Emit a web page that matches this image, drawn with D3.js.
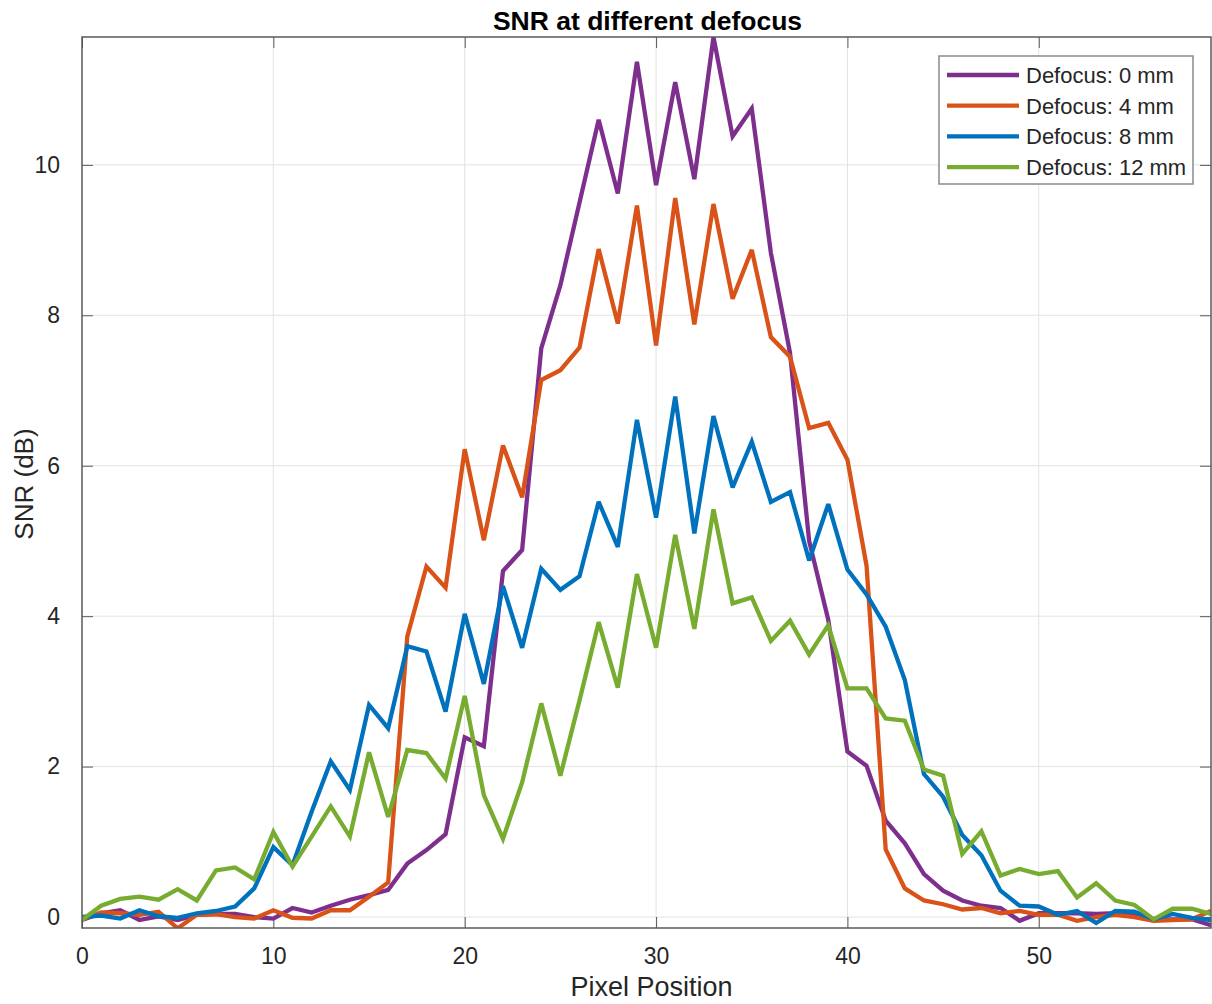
<!DOCTYPE html>
<html>
<head>
<meta charset="utf-8">
<script src="https://cdn.jsdelivr.net/npm/d3@7"></script>
<style>
  body { margin: 0; background: #fff; }
  text { font-family: "Liberation Sans", Arial, Helvetica, sans-serif; }
</style>
</head>
<body>
<div id="chart"></div>
<script>
// data, one value per pixel position 0..59
var pixelPositions = d3.range(0, 60);

var snrDefocus0 = [-0.04, 0.05, 0.09, -0.04, 0.01, -0.04, 0.03, 0.04, 0.04, 0.00,
  -0.02, 0.12, 0.06, 0.15, 0.23, 0.29, 0.36, 0.71, 0.89, 1.10,
  2.39, 2.27, 4.60, 4.88, 7.56, 8.40, 9.50, 10.60, 9.62, 11.37,
  9.73, 11.10, 9.81, 11.70, 10.38, 10.75, 8.83, 7.50, 5.00, 3.95,
  2.20, 2.01, 1.28, 0.98, 0.57, 0.35, 0.22, 0.15, 0.12, -0.05,
  0.05, 0.05, 0.05, 0.04, 0.05, 0.03, -0.03, -0.03, -0.03, -0.11];

var snrDefocus4 = [-0.03, 0.06, 0.05, 0.03, 0.07, -0.15, 0.03, 0.04, 0.00, -0.02,
  0.09, -0.01, -0.02, 0.09, 0.09, 0.27, 0.46, 3.73, 4.66, 4.38,
  6.22, 5.01, 6.27, 5.58, 7.14, 7.27, 7.57, 8.88, 7.89, 9.46,
  7.60, 9.56, 7.88, 9.48, 8.22, 8.87, 7.71, 7.45, 6.50, 6.57,
  6.08, 4.67, 0.90, 0.38, 0.22, 0.17, 0.10, 0.12, 0.05, 0.08,
  0.03, 0.03, -0.05, 0.00, 0.03, 0.00, -0.05, -0.04, -0.03, 0.08];

var snrDefocus8 = [0.00, 0.02, -0.02, 0.09, 0.01, -0.01, 0.05, 0.08, 0.14, 0.38,
  0.93, 0.69, 1.40, 2.07, 1.69, 2.82, 2.51, 3.60, 3.53, 2.73,
  4.03, 3.10, 4.40, 3.58, 4.63, 4.35, 4.53, 5.52, 4.92, 6.61,
  5.31, 6.92, 5.10, 6.66, 5.71, 6.32, 5.52, 5.65, 4.74, 5.49,
  4.62, 4.29, 3.86, 3.15, 1.90, 1.60, 1.09, 0.82, 0.35, 0.15,
  0.14, 0.03, 0.08, -0.08, 0.08, 0.07, -0.03, 0.04, -0.01, -0.04];

var snrDefocus12 = [-0.04, 0.15, 0.24, 0.27, 0.23, 0.37, 0.22, 0.62, 0.66, 0.50,
  1.13, 0.67, 1.07, 1.47, 1.07, 2.19, 1.33, 2.22, 2.18, 1.84,
  2.94, 1.62, 1.04, 1.79, 2.84, 1.88, 2.88, 3.92, 3.05, 4.56,
  3.58, 5.08, 3.83, 5.42, 4.17, 4.25, 3.67, 3.94, 3.49, 3.88,
  3.04, 3.04, 2.64, 2.61, 1.96, 1.88, 0.84, 1.14, 0.55, 0.64,
  0.57, 0.61, 0.26, 0.45, 0.22, 0.16, -0.03, 0.11, 0.11, 0.04];

var seriesNames = ['Defocus: 0 mm', 'Defocus: 4 mm', 'Defocus: 8 mm', 'Defocus: 12 mm'];
var seriesValues = [snrDefocus0, snrDefocus4, snrDefocus8, snrDefocus12];
var seriesColors = ['#7E2F8E', '#D95319', '#0072BD', '#77AC30'];

var xTicks = [0, 10, 20, 30, 40, 50];
var yTicks = [0, 2, 4, 6, 8, 10];

// some constants for the page
var width = 1212;
var height = 1004;
var plotLeft = 82;
var plotRight = 1211;
var plotTop = 37;
var plotBottom = 928;
var tickLength = 11;
var axisColor = '#5a5a5a';
var textColor = '#262626';

var svg = d3.select('div#chart')
    .append('svg')
    .attr('width', width)
    .attr('height', height);

var x = d3.scaleLinear().domain([0, 59]).range([plotLeft, plotRight]);
var y = d3.scaleLinear().domain([-0.146, 11.70]).range([plotBottom, plotTop]);

// grid lines
svg.append('g')
    .selectAll('line')
    .data(xTicks.slice(1))
    .enter()
    .append('line')
    .attr('x1', d => x(d)).attr('x2', d => x(d))
    .attr('y1', plotTop).attr('y2', plotBottom)
    .attr('stroke', '#e3e3e3')
    .attr('stroke-width', 1);

svg.append('g')
    .selectAll('line')
    .data(yTicks)
    .enter()
    .append('line')
    .attr('x1', plotLeft).attr('x2', plotRight)
    .attr('y1', d => y(d)).attr('y2', d => y(d))
    .attr('stroke', '#e3e3e3')
    .attr('stroke-width', 1);

// axes, ticks point inward like matlab
var xAxisBottom = d3.axisBottom(x).tickValues(xTicks).tickSizeInner(-tickLength).tickSizeOuter(0).tickPadding(20);
var xAxisTop = d3.axisTop(x).tickValues(xTicks).tickSizeInner(-tickLength).tickSizeOuter(0).tickFormat('');
var yAxisLeft = d3.axisLeft(y).tickValues(yTicks).tickSizeInner(-tickLength).tickSizeOuter(0).tickPadding(22);
var yAxisRight = d3.axisRight(y).tickValues(yTicks).tickSizeInner(-tickLength).tickSizeOuter(0).tickFormat('');

function styleAxis(g) {
    g.select('.domain').remove();
    g.selectAll('.tick line').attr('stroke', axisColor);
    g.selectAll('.tick text')
        .attr('fill', textColor)
        .style('font-size', '23px')
        .style('font-family', '"Liberation Sans", Arial, Helvetica, sans-serif');
}

svg.append('g').attr('transform', 'translate(0,' + plotBottom + ')').call(xAxisBottom).call(styleAxis);
svg.append('g').attr('transform', 'translate(0,' + plotTop + ')').call(xAxisTop).call(styleAxis);
svg.append('g').attr('transform', 'translate(' + plotLeft + ',0)').call(yAxisLeft).call(styleAxis);
svg.append('g').attr('transform', 'translate(' + plotRight + ',0)').call(yAxisRight).call(styleAxis);

// clip lines to the axes box
svg.append('clipPath')
    .attr('id', 'plotClip')
    .append('rect')
    .attr('x', plotLeft)
    .attr('y', plotTop)
    .attr('width', plotRight - plotLeft)
    .attr('height', plotBottom - plotTop);

var line = d3.line()
    .x((d, i) => x(pixelPositions[i]))
    .y(d => y(d));

svg.append('g')
    .attr('clip-path', 'url(#plotClip)')
    .selectAll('path')
    .data(seriesValues)
    .enter()
    .append('path')
    .attr('d', d => line(d))
    .attr('fill', 'none')
    .attr('stroke', (d, i) => seriesColors[i])
    .attr('stroke-width', 4.3)
    .attr('stroke-linejoin', 'miter')
    .attr('stroke-miterlimit', 3);

// axes box
svg.append('rect')
    .attr('x', plotLeft)
    .attr('y', plotTop)
    .attr('width', plotRight - plotLeft)
    .attr('height', plotBottom - plotTop)
    .attr('fill', 'none')
    .attr('stroke', axisColor)
    .attr('stroke-width', 1.5);

// title and axis labels
svg.append('text')
    .attr('x', (plotLeft + plotRight) / 2 + 1)
    .attr('y', 30)
    .attr('fill', '#000')
    .style('text-anchor', 'middle')
    .style('font-size', '26.5px')
    .style('font-weight', 'bold')
    .text('SNR at different defocus');

svg.append('text')
    .attr('x', (plotLeft + plotRight) / 2 + 5)
    .attr('y', 996)
    .attr('fill', textColor)
    .style('text-anchor', 'middle')
    .style('font-size', '27px')
    .text('Pixel Position');

svg.append('text')
    .attr('transform', 'translate(33,484) rotate(-90)')
    .attr('fill', textColor)
    .style('text-anchor', 'middle')
    .style('font-size', '26px')
    .text('SNR (dB)');

// legend
var legendX = 939;
var legendY = 56;
var legendWidth = 254;
var legendHeight = 128;
var legend = svg.append('g');

legend.append('rect')
    .attr('x', legendX)
    .attr('y', legendY)
    .attr('width', legendWidth)
    .attr('height', legendHeight)
    .attr('fill', '#fff')
    .attr('stroke', '#8a8a8a')
    .attr('stroke-width', 1.5);

var legendRows = legend.selectAll('g.row')
    .data(seriesNames)
    .enter()
    .append('g')
    .attr('class', 'row')
    .attr('transform', (d, i) => 'translate(0,' + (legendY + 19 + i * 30.7) + ')');

legendRows.append('line')
    .attr('x1', legendX + 8)
    .attr('x2', legendX + 80)
    .attr('y1', 0)
    .attr('y2', 0)
    .attr('stroke', (d, i) => seriesColors[i])
    .attr('stroke-width', 4.3);

legendRows.append('text')
    .attr('x', legendX + 87)
    .attr('y', 8)
    .attr('fill', textColor)
    .style('font-size', '22px')
    .text(d => d);
</script>
</body>
</html>
